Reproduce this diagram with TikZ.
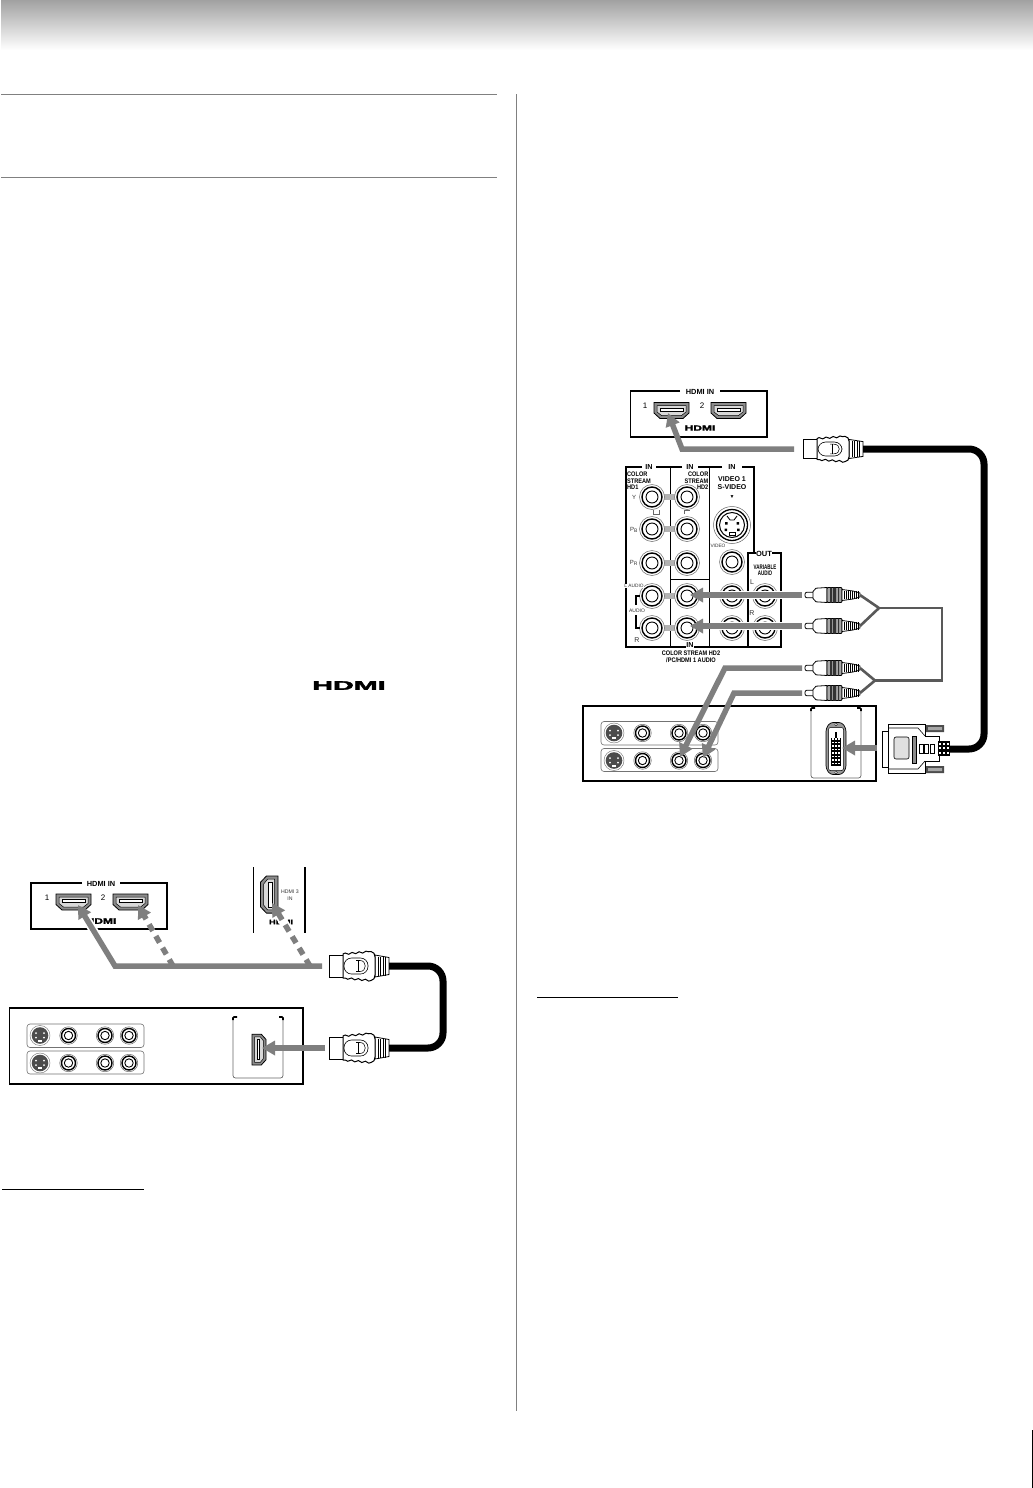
\documentclass[tikz,border=0pt]{standalone}
\usepackage{fontspec}
\setmainfont{Liberation Sans}
\newfontfamily\logofont[FakeBold=2]{Liberation Sans Bold}
\usetikzlibrary{arrows.meta,calc,decorations.pathmorphing}
\definecolor{flow}{HTML}{7F7F7F}
\definecolor{wire}{HTML}{595959}
\definecolor{rule}{HTML}{808080}
\tikzset{
  flowline/.style={draw=flow,line width=5.5pt,line join=miter,-{Triangle[length=13pt,width=14pt,fill=flow]}},
  dashflow/.style={flowline,dash pattern=on 7.5pt off 6pt},
  halo/.style={draw=white,line width=9pt},
  cable/.style={draw=black,line width=7pt,rounded corners=15pt},
  rca wire/.style={draw=wire,line width=2.6pt,line join=miter},
  lbl/.style={inner sep=0pt,font=\fontsize{7.2}{8}\selectfont\bfseries,align=center},
  cond/.style={inner sep=0pt,transform shape,xscale=.85,font=\fontsize{6.6}{6.4}\selectfont\bfseries},
  thin lbl/.style={inner sep=0pt,font=\fontsize{6}{6.6}\selectfont,align=center,text=black!80},
  panel/.style={draw=black,line width=1.1pt,fill=white},
  sep/.style={draw=black,line width=.9pt},
  group/.style={draw=black!55,line width=.6pt,rounded corners=3pt},
  portfill/.style={draw=black,line width=.8pt,fill=black!45},
  page rule/.style={draw=rule,line width=1pt},
}
\newcommand{\hdmisock}[2][]{%
  \begin{scope}[shift={(#2)},#1]
    \path[portfill] (0,0)--(35,0)--(35,10.5)--(29,16)--(6,16)--(0,10.5)--cycle;
    \path[draw=black,line width=.5pt,fill=black!15] (3,3)--(32,3)--(32,9.5)--(27.5,13)--(7.5,13)--(3,9.5)--cycle;
    \path[draw=black,line width=.5pt,fill=white] (6,5.5) rectangle (29,8.5);
  \end{scope}}
\newcommand{\rcajack}[3]{%
  \begin{scope}[shift={(#1)},scale=#2]
    \node[circle,minimum size=0pt,inner sep=0pt] (#3) at (0,0) {};
    \draw[black!60,line width=.5pt,fill=white] (0,0) circle (12.5);
    \draw[black,line width=1.4pt] (0,0) circle (10);
    \draw[black,line width=.9pt] (0,0) circle (6);
  \end{scope}}
\newcommand{\svsmall}[2]{%
  \begin{scope}[shift={(#1)}]
    \node[inner sep=0pt] (#2) at (0,0) {};
    \draw[black!55,line width=.45pt,fill=white] (0,0) circle (10);
    \fill[black!70] (0,0) circle (8.3);
    \fill[white] (-4,-2.5) circle (1) (4,-2.5) circle (1) (-4,2) circle (1) (4,2) circle (1);
    \fill[white] (-2,4.2) rectangle (2,6.2);
  \end{scope}}
\newcommand{\hdmiplug}[3][1]{%
  \begin{scope}[shift={(#2)},yscale=#1]
    \coordinate (#3e) at (60,0);
    \draw[black,line width=1pt,fill=white] (0,-11) rectangle (15,11);
    \draw[black,line width=.8pt,fill=white] (46,-11) -- (60,-8.5) -- (60,8.5) -- (46,11) -- cycle;
    \foreach \q in {49,51.5,54,56.5} \draw[black,line width=.5pt] (\q,-9.5) -- (\q,9.5);
    \draw[black,line width=1pt,fill=white,decoration={snake,amplitude=.8pt,segment length=7pt}]
      (14,-12) decorate {-- (42,-14.5)} to[out=0,in=90] (46,-9) -- (46,9) to[out=-90,in=0] (42,14.5) decorate {-- (14,12)} -- cycle;
    \draw[black,line width=.6pt,rounded corners=7.5pt] (15,-8) rectangle (39,8);
    \draw[black,line width=.55pt] (27,-5.5) -- (31,-5.5) .. controls (38,-5.5) and (38,5.5) .. (31,5.5) -- (27,5.5);
    \draw[black,line width=.55pt] (29,-5.5) -- (29,5.5);
  \end{scope}}
\newcommand{\rcaplug}[2]{%
  \begin{scope}[shift={(#1)}]
    \coordinate (#2e) at (55,0);
    \draw[black,line width=.8pt,fill=white,rounded corners=2pt] (0,-2.8) rectangle (11,2.8);
    \draw[black,line width=.8pt,fill=white] (8,-3.5) -- (11,-6.8) -- (22,-7.5) -- (22,7.5) -- (11,6.8) -- (8,3.5) -- cycle;
    \draw[black,line width=.8pt,fill=black!35,rounded corners=1pt] (22,-7.5) rectangle (37,7.5);
    \fill[black!80] (25,-7.5) rectangle (27,7.5) (28,-7.5) rectangle (31,7.5) (33,-7.5) rectangle (34,7.5);
    \draw[black,line width=.8pt,fill=white] (37,-5.5) -- (48,-4) -- (55,-2) -- (55,2) -- (48,4) -- (37,5.5) -- cycle;
    \foreach \q in {39,41,43,45,47,49,51,53} \draw[black,line width=.6pt] (\q,-3.6) -- (\q,3.6);
  \end{scope}}
\newcommand{\jackrows}[2]{%
  \begin{scope}[shift={(#1)}]
    \draw[group] (0,0) rectangle (117,23.5);
    \draw[group] (0,27) rectangle (117,50);
    \svsmall{13,11.5}{#2sa}
    \rcajack{41.5,11.5}{.7}{#2ra}
    \rcajack{78,11.5}{.7}{#2rb}
    \rcajack{102,11.5}{.7}{#2rc}
    \svsmall{13,39}{#2sb}
    \rcajack{41.5,39}{.7}{#2rd}
    \rcajack{78,39}{.7}{#2re}
    \rcajack{102,39}{.7}{#2rf}
  \end{scope}}
\newcommand{\bracketbox}[3]{%
  \draw[black!60,line width=.7pt,rounded corners=2.5pt] (#1,#2) -- (#1,#3+61) -- (#1+50,#3+61) -- (#1+50,#2);
  \draw[black,line width=1.6pt,rounded corners=1pt] (#1,#2+3) -- (#1,#2) -- (#1+4,#2);
  \draw[black,line width=1.6pt,rounded corners=1pt] (#1+46,#2) -- (#1+50,#2) -- (#1+50,#2+3);}
\begin{document}
\begin{tikzpicture}[x=1pt,y=-1pt]
\useasboundingbox (0,0) rectangle (1033,1488);
\fill[white] (0,0) rectangle (1033,1488);
\shade[top color=black!36,bottom color=white] (1,1) rectangle (1033,50);
\draw[page rule] (1,94.5) -- (497,94.5);
\draw[page rule] (1,177.5) -- (497,177.5);
\draw[page rule] (516,94) -- (516,1411);
\draw[black,line width=1pt] (2,1189.5) -- (144,1189.5);
\draw[black,line width=1pt] (537,997.5) -- (678,997.5);
\fill[black] (1031.5,1430) rectangle (1033,1488);
\node[inner sep=0pt,font=\fontsize{12.5}{13}\selectfont\logofont,xscale=2.3,transform shape] (toplogo) at (349,685.5) {HDMI};

%================ LEFT DIAGRAM ================
\draw[panel] (82,883) -- (31,883) -- (31,929) -- (167,929) -- (167,883) -- (120,883);
\node[lbl,font=\fontsize{7.4}{8}\selectfont\bfseries] (lAin) at (101,884) {HDMI IN};
\node[inner sep=0pt,font=\fontsize{8}{8}\selectfont] (lA1) at (47,898) {1};
\node[inner sep=0pt,font=\fontsize{8}{8}\selectfont] (lA2) at (103,898) {2};
\hdmisock{56,894}
\hdmisock{113,894}
\node[inner sep=0pt,font=\fontsize{8}{8}\selectfont\logofont,xscale=1.5,transform shape] (lAlogo) at (101,921) {HDMI};
\draw[black,line width=.7pt] (253,867) -- (253,933);
\draw[black,line width=1.3pt] (305,867) -- (305,933);
\hdmisock[rotate=-90,xscale=1.06,yscale=1.1]{278,876}
\node[thin lbl,font=\fontsize{5.2}{7}\selectfont] (lB3) at (290,895) {HDMI 3\\IN};
\node[inner sep=0pt,font=\fontsize{6.5}{7}\selectfont\logofont,xscale=1.45,transform shape] (lBlogo) at (281,922) {HDMI};
\draw[panel] (9.5,1008) rectangle (303,1084);
\jackrows{27,1024}{L}
\bracketbox{233}{1017}{1017}
\hdmisock[rotate=90,xscale=.88,yscale=.88]{252,1065}
\coordinate (ltipA) at (78,905);
\coordinate (ltipB) at (138,905);
\coordinate (ltipC) at (272,903);
\coordinate (lbend) at (115,966);
\coordinate (lstart) at (322,966);
\coordinate (lbrA) at (173,966);
\coordinate (lbrB) at (310,966);
\coordinate (lcabA) at (443,966);
\coordinate (lcabB) at (443,1048);
\hdmiplug{329,966}{lp1}
\hdmiplug{329,1048}{lp2}
\path[cable] (lp1e) -- (lcabA) -- (lcabB) -- (lp2e);
\path[halo] ($(ltipA)!.22!(lbend)$) -- (lbend);
\path[halo] ($(ltipC)!.22!(lbrB)$) -- (lbrB);
\draw[flowline] (lstart) -- (lbend) -- (ltipA);
\draw[dashflow] (lbrA) -- (ltipB);
\draw[dashflow] (lbrB) -- (ltipC);
\coordinate (lstart2) at (325,1048);
\coordinate (ltipD) at (262,1048);
\draw[flowline] (lstart2) -- (ltipD);

%================ RIGHT DIAGRAM ================
\draw[panel] (680,391) -- (630.5,391) -- (630.5,437) -- (767,437) -- (767,391) -- (720,391);
\node[lbl,font=\fontsize{7.4}{8}\selectfont\bfseries] (rCin) at (700,392) {HDMI IN};
\node[inner sep=0pt,font=\fontsize{8}{8}\selectfont] (rC1) at (645,406) {1};
\node[inner sep=0pt,font=\fontsize{8}{8}\selectfont] (rC2) at (702,406) {2};
\hdmisock{654,402.5}
\hdmisock{711,402.5}
\node[inner sep=0pt,font=\fontsize{7.5}{8}\selectfont\logofont,xscale=1.6,transform shape] (rClogo) at (700,428) {HDMI};
\hdmiplug[.87]{803,449}{rp1}
\coordinate (rstart) at (794,449);
\coordinate (rbend) at (682,449);
\coordinate (rtip) at (668,413);
\draw[flowline] (rstart) -- (rbend) -- (rtip);
\coordinate (rcabA) at (984,449);
\coordinate (rcabB) at (984,749);
\coordinate (dvie) at (950,749);
\path[cable] (rp1e) -- (rcabA) -- (rcabB) -- (dvie);

\draw[black,line width=1.4pt] (754,553) -- (754,467) -- (742,467);
\draw[black,line width=1.4pt] (722,467) -- (698,467);
\draw[black,line width=1.4pt] (682,467) -- (656,467);
\draw[black,line width=1.4pt] (642,467) -- (626,467) -- (626,647) -- (781,647) -- (781,553) -- (772,553);
\draw[black,line width=1.4pt] (756,553) -- (748,553) -- (748,647);
\draw[sep] (670,467) -- (670,647);
\draw[sep] (709,467) -- (709,647);
\draw[sep] (670,579) -- (709,579);
\foreach \ry in {497,529,563,596,628} {
  \fill[black!30] (664,\ry-3) rectangle (675,\ry+3);
}
\draw[black!60,line width=.6pt] (653,510) -- (653,514) -- (659,514) -- (659,510);
\draw[black!60,line width=.6pt] (684,514) -- (684,510) -- (690,510);
\rcajack{652,497}{1}{jA}
\rcajack{652,529}{1}{jB}
\rcajack{652,563}{1}{jC}
\rcajack{652,596}{1}{jD}
\rcajack{652,628}{1}{jE}
\rcajack{687,497}{1}{jF}
\rcajack{687,529}{1}{jG}
\rcajack{687,563}{1}{jH}
\rcajack{687,596}{1}{jI}
\rcajack{687,628}{1}{jJ}
\rcajack{732,562}{1}{jK}
\rcajack{732,596}{1}{jL}
\rcajack{732,628}{1}{jM}
\rcajack{765,596}{1}{jN}
\rcajack{765,628}{1}{jO}
\begin{scope}[shift={(732,525)}]
  \node[inner sep=0pt] (jS) at (0,0) {};
  \draw[black!60,line width=.5pt,fill=white] (0,0) circle (18.5);
  \draw[black,line width=1.3pt] (0,0) circle (15.5);
  \draw[black,line width=1pt] (0,0) circle (12.5);
  \fill[black] (-7,-3) rectangle (-4.5,-.5) (4.5,-3) rectangle (7,-.5) (-7.5,3.5) rectangle (-5,6) (5,3.5) rectangle (7.5,6);
  \draw[black,line width=.8pt] (-3,7) rectangle (3,10);
  \draw[black,line width=.9pt] (-5,-9) -- (-2,-5) (5,-9) -- (2,-5) (-2,-5) -- (2,-5);
\end{scope}
\draw[black,line width=1.4pt] (640,596) -- (636,596) -- (636,605);
\draw[black,line width=1.4pt] (636,615) -- (636,628) -- (640,628);
\node[lbl] (nINa) at (649,467.5) {IN};
\node[lbl] (nINb) at (690,467.5) {IN};
\node[lbl] (nINc) at (732,467.5) {IN};
\node[cond,anchor=north west,align=left] (nHDa) at (627,472) {COLOR\\STREAM\\HD1};
\node[cond,anchor=north east,align=right] (nHDb) at (708.5,472) {COLOR\\STREAM\\HD2};
\node[lbl,font=\fontsize{7}{8.5}\selectfont\bfseries] (nVid) at (732,483) {VIDEO 1\\S-VIDEO};
\node[lbl,font=\fontsize{5}{5}\selectfont] (nArr) at (732,497) {▼};
\node[thin lbl] (nY) at (634,497) {Y};
\node[thin lbl] (nPb) at (634,530) {P\textsubscript{B}};
\node[thin lbl] (nPr) at (634,563) {P\textsubscript{R}};
\node[thin lbl,font=\fontsize{4.8}{5}\selectfont,fill=white] (nLa) at (634,586) {L AUDIO};
\node[thin lbl,font=\fontsize{5}{5}\selectfont] (nAu) at (637,611) {AUDIO};
\node[thin lbl,font=\fontsize{7}{7}\selectfont] (nR) at (637,640) {R};
\node[thin lbl,font=\fontsize{4.8}{5}\selectfont] (nVd) at (718,546) {VIDEO};
\path[fill=white] (756,549) rectangle (772,557);
\node[lbl,font=\fontsize{7.5}{7.5}\selectfont\bfseries] (nOut) at (764,553.5) {OUT};
\path[fill=white] (749.5,559) rectangle (780,579);
\node[cond,align=center,xscale=.8] (nVar) at (765,570.5) {VARIABLE\\AUDIO};
\node[thin lbl,font=\fontsize{7}{7}\selectfont,fill=white] (nL2) at (752,582) {L};
\node[thin lbl,font=\fontsize{7}{7}\selectfont,fill=white] (nR2) at (752,613) {R};
\node[lbl,fill=white,inner sep=.5pt] (nINd) at (690,645) {IN};
\node[cond,align=center,font=\fontsize{6.6}{6.6}\selectfont\bfseries] (nCS) at (691,656.5) {COLOR STREAM HD2\\/PC/HDMI 1 AUDIO};

\rcaplug{805,595}{pa}
\rcaplug{805,626}{pb}
\rcaplug{805,668}{pc}
\rcaplug{805,693}{pd}
\coordinate (jup) at (879,608);
\coordinate (jdn) at (875,680.5);
\coordinate (wupr) at (942,608);
\coordinate (wdnr) at (942,680.5);
\draw[rca wire] (pae) -- (jup);
\draw[rca wire] (pbe) -- (jup);
\draw[rca wire] (pce) -- (jdn);
\draw[rca wire] (pde) -- (jdn);
\draw[rca wire] (jup) -- (wupr) -- (wdnr) -- (jdn);

\draw[panel] (583,706) rectangle (876,781);
\jackrows{601,721.5}{R}
\bracketbox{811}{708}{717}
\begin{scope}[shift={(836,748.5)}]
  \node[inner sep=0pt] (dvis) at (0,0) {};
  \draw[black,line width=.7pt,fill=black!40,rounded corners=3pt]
    (-6,-26) -- (6,-26) -- (10,-20) -- (10,20) -- (6,26) -- (-6,26) -- (-10,20) -- (-10,-20) -- cycle;
  \draw[black,line width=.5pt,fill=white,rounded corners=2pt] (-7.5,-21) rectangle (7.5,22);
  \fill[white,draw=black,line width=.3pt] (0,-24) circle (1.3) (0,24) circle (1.3);
  \fill[black] (-5,-11) rectangle (5,17);
  \fill[black] (-.6,-17) rectangle (.6,-11);
  \foreach \cx in {-3,0,3} \foreach \cy in {-9.5,-6,-2.5,1,4.5,8,11.5,15} \fill[white] (\cx-.7,\cy-.7) rectangle (\cx+.7,\cy+.7);
\end{scope}
\begin{scope}[shift={(882,749)}]
  \node[inner sep=0pt] (dvip) at (0,0) {};
  \fill[black!70] (43.5,-24) rectangle (62,-17) (43.5,17) rectangle (62,24);
  \fill[black!35] (46,-22) rectangle (60,-19) (46,19) rectangle (60,22);
  \draw[black,line width=.9pt,fill=white] (0,-18) rectangle (7,18);
  \draw[black,line width=1pt,fill=white] (6,-25) -- (43,-25) -- (43,-13) -- (57,-13) -- (57,12) -- (43,12) -- (43,24) -- (6,24) -- cycle;
  \draw[black,line width=.6pt] (6,-21) -- (36,-21) -- (43,-13) (6,20) -- (36,20) -- (43,12);
  \draw[black,line width=.6pt,fill=black!12,rounded corners=2pt] (12,-12) rectangle (27,10);
  \draw[black,line width=.6pt,fill=black!45] (30,-13) rectangle (34,14);
  \draw[black,line width=.9pt,fill=white] (37,-5) rectangle (41,4) (42.5,-5) rectangle (46.5,4) (48,-5) rectangle (52,4);
  \fill[black] (56,-8) rectangle (68,7);
  \foreach \cx in {58,62,66} \foreach \cy in {-5.5,-1,3.5} \fill[white] (\cx-1,\cy-1) rectangle (\cx+1,\cy+1);
\end{scope}
\coordinate (fa) at (802,595);
\coordinate (fat) at (690,595);
\coordinate (fb) at (802,626);
\coordinate (fbt) at (690,626);
\coordinate (fc) at (802,668);
\coordinate (fcb) at (725,668);
\coordinate (fct) at (680,757);
\coordinate (fd) at (802,693);
\coordinate (fdb) at (734,693);
\coordinate (fdt) at (703,758);
\coordinate (fe) at (877,748);
\coordinate (fet) at (842,748);
\path[draw=white,line width=8pt] (712,595) -- (fa);
\path[draw=white,line width=8pt] (712,626) -- (fb);
\draw[flowline] (fa) -- (fat);
\draw[flowline] (fb) -- (fbt);
\draw[flowline] (fc) -- (fcb) -- (fct);
\draw[flowline] (fd) -- (fdb) -- (fdt);
\draw[flowline] (fe) -- (fet);
\end{tikzpicture}
\end{document}
